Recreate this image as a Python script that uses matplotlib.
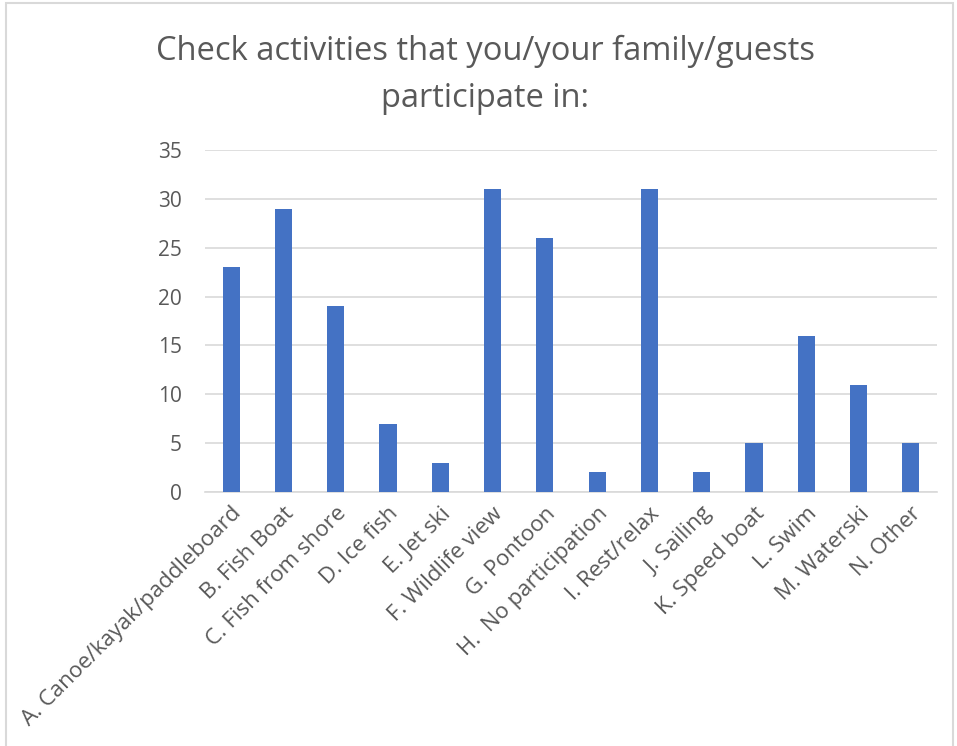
import matplotlib
matplotlib.use("Agg")
import matplotlib.pyplot as plt
from matplotlib.patches import Rectangle

categories = ["A. Canoe/kayak/paddleboard", "B. Fish Boat", "C. Fish from shore",
              "D. Ice fish", "E. Jet ski", "F. Wildlife view", "G. Pontoon",
              "H.  No participation", "I. Rest/relax", "J. Sailing", "K. Speed boat",
              "L. Swim", "M. Waterski", "N. Other"]
values = [23, 29, 19, 7, 3, 31, 26, 2, 31, 2, 5, 16, 11, 5]
yticks = [0, 5, 10, 15, 20, 25, 30, 35]

plt.rcParams['font.family'] = ['Open Sans', 'DejaVu Sans']
txt = '#595959'

fig = plt.figure(figsize=(9.57, 7.46), dpi=100)
fig.patches.append(Rectangle((0.006, -0.05), 0.99, 1.046, transform=fig.transFigure,
                             fill=False, edgecolor='#d9d9d9', linewidth=1.5))
ax = fig.add_axes([0.2142, 0.3405, 0.7649, 0.4584])
x = list(range(len(categories)))
ax.bar(x, values, width=0.33, color='#4472c4', zorder=3)
ax.set_xlim(-0.5, len(categories) - 0.5)
ax.set_ylim(0, 35)
ax.set_yticks(yticks)
ax.set_yticklabels([str(v) for v in yticks], fontsize=15, color=txt)
ax.set_xticks(x)
ax.set_xticklabels(categories, rotation=45, ha='right', rotation_mode='anchor',
                   fontsize=16, color=txt)
ax.tick_params(axis='both', length=0)
ax.tick_params(axis='y', pad=16.5)
ax.tick_params(axis='x', pad=8)
ax.grid(axis='y', color='#d9d9d9', linewidth=1.2, zorder=0)
for s in ['top', 'right', 'left']:
    ax.spines[s].set_visible(False)
ax.spines['bottom'].set_color('#d9d9d9')
ax.spines['bottom'].set_linewidth(1.2)

fig.text(0.507, 0.9, "Check activities that you/your family/guests\nparticipate in:",
         ha='center', va='center', fontsize=23.5, color=txt, linespacing=1.55)

fig.savefig("out.png", dpi=100)
